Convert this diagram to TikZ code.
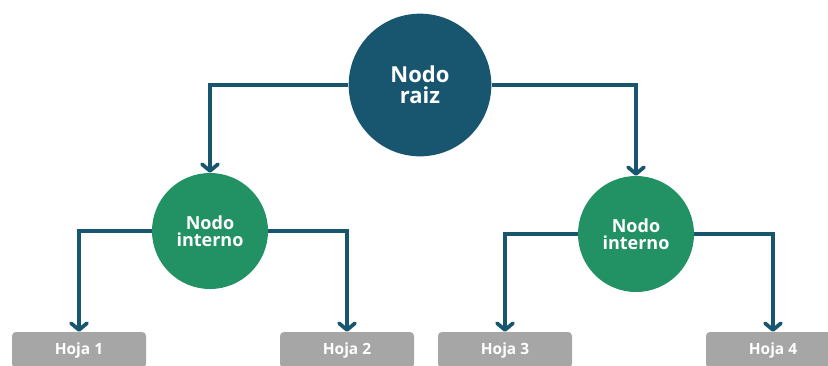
\documentclass[tikz,border=0pt]{standalone}
\usepackage{fontspec}
\setmainfont{Open Sans}
\usepackage{tikz}
\usetikzlibrary{arrows.meta}

\definecolor{rootblue}{RGB}{24,86,112}
\definecolor{innergreen}{RGB}{34,145,100}
\definecolor{leafgray}{RGB}{166,166,166}

\tikzstyle{link} = [draw=rootblue, line width=2.8pt, -{Straight Barb[length=5pt,width=12pt,round]}]
\tikzstyle{rootnode} = [circle, fill=rootblue, text=white, minimum size=107pt, inner sep=0pt, align=center, font=\bfseries\fontsize{16.5}{16}\selectfont]
\tikzstyle{innernode} = [circle, fill=innergreen, text=white, minimum size=87pt, inner sep=0pt, align=center, font=\bfseries\fontsize{13.5}{13}\selectfont]
\tikzstyle{leafnode} = [rectangle, rounded corners=3pt, fill=leafgray, text=white, minimum width=100.5pt, minimum height=27pt, inner sep=0pt, font=\bfseries\fontsize{11.6}{13}\selectfont]

\begin{document}
\begin{tikzpicture}[x=0.75pt,y=-0.75pt]
	\useasboundingbox (0,0) rectangle (828,365);

	% ------------------- Nodes ------------------- %
	\node[rootnode] (root) at (420,85) {Nodo\\raiz};

	\node[innernode] (innerL) at (210,231) {Nodo\\interno};
	\node[innernode] (innerR) at (636,234) {Nodo\\interno};

	\node[leafnode] (leaf1) at (79,350) {Hoja 1};
	\node[leafnode] (leaf2) at (347,350) {Hoja 2};
	\node[leafnode] (leaf3) at (505,350) {Hoja 3};
	\node[leafnode] (leaf4) at (773,350) {Hoja 4};

	% ------------------- Connectors ------------------- %
	\draw[link] (root.west) -| (innerL.north);
	\draw[link] (root.east) -| (innerR.north);

	\draw[link] (innerL.west) -| (leaf1.north);
	\draw[link] (innerL.east) -| (leaf2.north);
	\draw[link] (innerR.west) -| (leaf3.north);
	\draw[link] (innerR.east) -| (leaf4.north);
\end{tikzpicture}
\end{document}
